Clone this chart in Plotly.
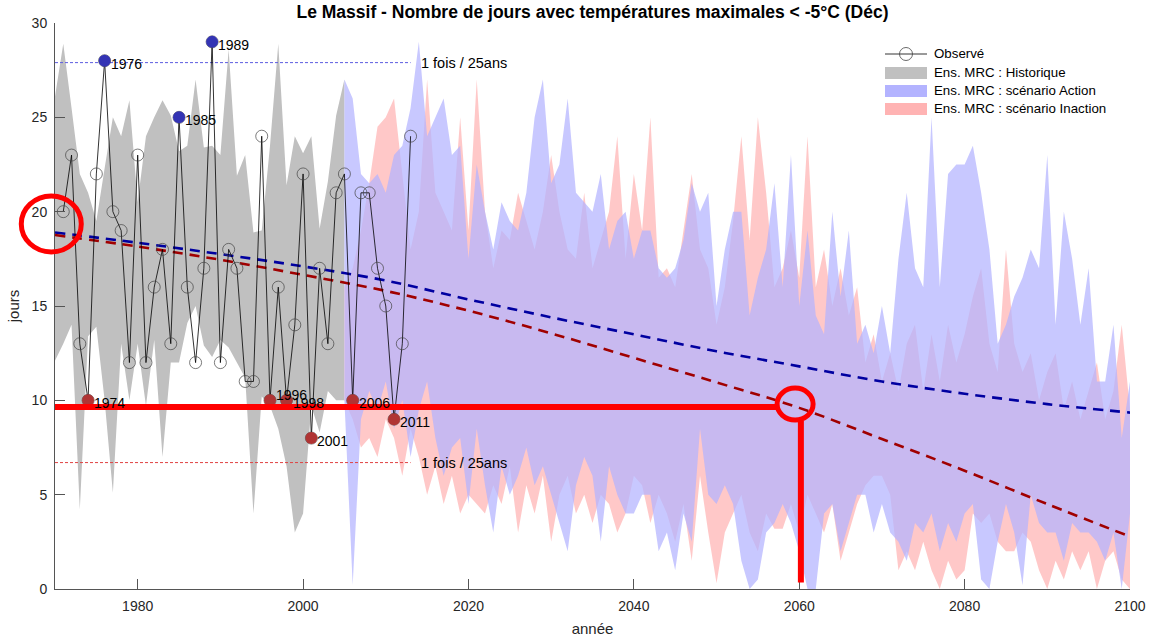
import plotly.graph_objects as go

# --- données ---
years_hist = list(range(1970, 2006))
hist_max = [26.1, 28.9, 25.5, 22.0, 21.0, 19.5, 22.3, 25.0, 24.0, 25.9,
            20.5, 24.0, 25.0, 25.9, 25.1, 23.2, 23.5, 27.0, 23.4, 23.5,
            23.0, 28.6, 21.9, 23.0, 18.9, 19.0, 23.5, 28.9, 21.4, 24.0,
            23.1, 24.0, 19.1, 21.6, 25.1, 27.0]
hist_min = [12.1, 13.0, 14.0, 4.2, 13.4, 13.9, 10.0, 5.1, 13.0, 10.0,
            13.0, 9.7, 13.2, 7.0, 12.0, 12.0, 14.1, 15.0, 12.9, 12.3,
            13.2, 12.8, 12.0, 11.2, 4.0, 10.2, 9.7, 8.5, 6.5, 3.0,
            4.0, 9.7, 8.3, 10.5, 10.0, 10.0]

years_fut = list(range(2005, 2101))
action_max = [27.0, 26.0, 22.0, 21.5, 22.0, 21.0, 23.0, 23.5, 25.5, 29.0,
              24.0, 25.0, 26.0, 23.0, 23.5, 17.5, 22.5, 20.0, 18.0, 20.5,
              19.5, 19.0, 21.0, 25.0, 27.0, 21.5, 22.5, 26.0, 21.0, 20.5,
              20.0, 22.0, 18.0, 19.5, 20.0, 17.5, 19.0, 19.0, 17.0, 16.5,
              17.0, 18.5, 21.5, 20.0, 21.0, 15.0, 18.0, 20.0, 20.0, 14.5,
              16.5, 18.0, 21.5, 16.0, 23.0, 15.0, 19.0, 14.5, 13.5, 20.0,
              15.5, 19.0, 13.0, 14.0, 12.5, 15.0, 12.5, 17.5, 21.0, 17.0,
              16.0, 25.0, 16.0, 22.0, 22.5, 22.5, 23.5, 21.0, 18.0, 13.0,
              14.0, 15.5, 16.5, 18.0, 17.0, 23.0, 14.0, 20.0, 17.5, 14.0,
              17.0, 11.0, 11.0, 14.0, 8.0, 11.0]
action_min = [10.0, 0.2, 9.0, 10.5, 9.5, 11.0, 8.5, 10.0, 7.0, 9.5,
              11.0, 8.0, 6.0, 7.5, 8.0, 4.5, 8.5, 5.5, 3.0, 6.5,
              5.0, 6.0, 7.5, 5.5, 6.5, 5.0, 3.5, 2.0, 5.5, 7.0,
              6.0, 2.5, 6.5, 5.0, 4.0, 4.0, 5.0, 5.0, 2.0, 3.0,
              1.0, 4.0, 2.5, 8.5, 5.0, 4.5, 5.5, 4.5, 1.5, 0.0,
              0.5, 3.0, 3.5, 4.5, 3.5, 2.0, 0.0, 0.0, 4.0, 4.5,
              2.0, 3.5, 5.0, 5.0, 3.0, 4.5, 3.0, 2.5, 1.5, 3.5,
              3.0, 4.0, 2.0, 3.5, 2.5, 4.0, 4.5, 0.5, 0.0, 2.5,
              4.5, 3.0, 0.2, 5.0, 3.5, 3.0, 3.0, 1.5, 3.5, 3.0,
              3.0, 2.5, 1.5, 3.0, 0.0, 4.0]
inaction_max = [16.0, 17.0, 19.0, 21.5, 24.5, 25.0, 26.0, 22.0, 18.0, 20.0,
                27.0, 21.0, 20.0, 19.0, 25.0, 19.0, 27.0, 20.0, 17.0, 19.0,
                18.5, 21.0, 19.5, 18.0, 20.0, 23.0, 20.0, 18.0, 17.5, 21.0,
                17.0, 18.5, 20.0, 24.0, 17.5, 22.0, 19.0, 25.0, 16.5, 17.0,
                16.0, 19.0, 22.0, 18.0, 17.0, 14.0, 16.0, 19.5, 24.0, 18.5,
                25.0, 21.0, 16.0, 17.0, 19.0, 16.5, 24.0, 16.0, 18.0, 15.0,
                17.0, 14.5, 16.0, 12.0, 13.5, 11.0, 12.5, 10.5, 13.0, 14.0,
                10.5, 13.5, 11.0, 14.0, 12.0, 13.5, 15.5, 17.0, 13.0, 11.5,
                18.0, 13.0, 11.5, 12.5, 10.0, 11.5, 12.5, 9.5, 11.0, 9.0,
                10.5, 12.0, 9.0, 10.5, 14.0, 9.5]
inaction_min = [10.0, 9.0, 7.5, 8.0, 7.0, 9.0, 8.0, 6.0, 8.5, 7.0,
                5.0, 6.5, 4.5, 6.0, 4.0, 5.0, 4.5, 4.0, 5.5, 4.5,
                6.5, 3.0, 5.5, 4.0, 6.0, 2.5, 5.0, 6.0, 4.0, 5.0,
                3.5, 5.0, 4.5, 3.0, 4.0, 6.0, 5.5, 3.5, 5.0, 4.0,
                2.5, 4.5, 1.5, 6.0, 3.0, 0.3, 3.0, 4.0, 5.0, 3.0,
                2.0, 4.0, 3.2, 3.2, 4.5, 3.0, 5.0, 4.0, 3.0, 4.5,
                1.5, 3.0, 4.5, 5.5, 6.0, 6.0, 5.0, 1.0, 2.0, 1.0,
                2.5, 1.0, 0.0, 1.5, 0.5, 1.0, 4.0, 3.5, 4.0, 2.5,
                2.0, 2.0, 3.0, 2.5, 1.0, 0.0, 1.5, 0.5, 2.0, 1.0,
                2.0, 0.0, 1.5, 2.0, 0.5, 0.0]

obs_years = list(range(1971, 2014))
obs_values = [20, 23, 13, 10, 22, 28, 20, 19, 12, 23,
              12, 16, 18, 13, 25, 16, 12, 17, 29, 12,
              18, 17, 11, 11, 24, 10, 16, 10, 14, 22,
              8, 17, 13, 21, 22, 10, 21, 21, 17, 15,
              9, 13, 24]
high_years = [1976, 1985, 1989]
low_years = [1974, 1996, 1998, 2001, 2006, 2011]

seuil_haut = 27.9
seuil_bas = 6.7

trend_years = [1970, 1980, 1990, 2000, 2010, 2020, 2030, 2040, 2050, 2060, 2070, 2080, 2090, 2100]
trend_action = [18.9, 18.35, 17.75, 17.1, 16.35, 15.35, 14.4, 13.5, 12.6, 11.8, 11.0, 10.35, 9.8, 9.35]
trend_inaction = [18.76, 18.15, 17.45, 16.65, 15.8, 14.75, 13.55, 12.25, 10.95, 9.6, 7.95, 6.27, 4.5, 2.78]

legend_labels = ["Observé", "Ens. MRC : Historique", "Ens. MRC : scénario Action",
                 "Ens. MRC : scénario Inaction"]

# repère rouge ajouté sur l'image
repere_annee = 2060
repere_valeur = 9.65

x_range = [1970, 2100]
y_range = [0, 30]

W, H = 1151, 640
M = dict(l=55, r=21, t=23, b=51)
FONT = "Liberation Sans, Arial, sans-serif"

GREY = "rgb(192,192,192)"
BLUE = "rgba(179,179,255,0.72)"
PINK = "rgba(255,179,179,0.72)"


def px_x(p):  # pixel -> paper
    return (p - M["l"]) / (W - M["l"] - M["r"])


def px_y(p):
    return (H - M["b"] - p) / (H - M["t"] - M["b"])


fig = go.Figure()


def band(years, upper, lower, color):
    fig.add_trace(go.Scatter(
        x=years + years[::-1], y=upper + lower[::-1],
        fill="toself", fillcolor=color, mode="lines",
        line=dict(width=0), showlegend=False, hoverinfo="skip"))


band(years_hist, hist_max, hist_min, GREY)
band(years_fut, inaction_max, inaction_min, PINK)
band(years_fut, action_max, action_min, BLUE)

# tendances
fig.add_trace(go.Scatter(x=trend_years, y=trend_action, mode="lines", line_shape="spline",
                         line=dict(color="#0000a0", width=2.6, dash="10px,7px"),
                         showlegend=False, hoverinfo="skip"))
fig.add_trace(go.Scatter(x=trend_years, y=trend_inaction, mode="lines", line_shape="spline",
                         line=dict(color="#a00000", width=2.6, dash="10px,7px"),
                         showlegend=False, hoverinfo="skip"))

# seuils 1 fois / 25 ans
seuil_x = [years_hist[0], obs_years[-1]]
fig.add_trace(go.Scatter(x=seuil_x, y=[seuil_haut] * 2, mode="lines",
                         line=dict(color="#5c5ce0", width=1, dash="3px,2px"),
                         showlegend=False, hoverinfo="skip"))
fig.add_trace(go.Scatter(x=seuil_x, y=[seuil_bas] * 2, mode="lines",
                         line=dict(color="#e04040", width=1, dash="3px,2px"),
                         showlegend=False, hoverinfo="skip"))
for s in (seuil_haut, seuil_bas):
    fig.add_annotation(x=obs_years[-1] + 1, y=s, text="1 fois / 25ans", showarrow=False,
                       xanchor="left", yanchor="middle", font=dict(size=14.5, color="#000"))

# observations
fig.add_trace(go.Scatter(x=obs_years, y=obs_values, mode="lines+markers",
                         line=dict(color="black", width=0.8),
                         marker=dict(symbol="circle-open", size=12, color="#444",
                                     line=dict(width=0.7)),
                         showlegend=False, hoverinfo="skip"))

val = dict(zip(obs_years, obs_values))
label_lift = {1996: 8}  # petit décalage vertical comme sur l'original
for yrs, col in ((high_years, "#3434b4"), (low_years, "#b03434")):
    fig.add_trace(go.Scatter(x=yrs, y=[val[y] for y in yrs], mode="markers",
                             marker=dict(size=12, color=col), showlegend=False,
                             hoverinfo="skip"))
    for y in yrs:
        fig.add_annotation(x=y, y=val[y], text=str(y), showarrow=False, xanchor="left",
                           yanchor="middle", xshift=4, yshift=-3 + label_lift.get(y, 0),
                           font=dict(size=14, color="#000"))

# légende (dessinée à la main pour avoir des pastilles pleines)
lx0, lx1, ltxt = 885, 927, 932
rows = [54, 73, 91, 109]
fig.add_shape(type="line", xref="paper", yref="paper", x0=px_x(lx0), x1=px_x(lx1),
              y0=px_y(rows[0]), y1=px_y(rows[0]), line=dict(color="black", width=0.8))
fig.add_shape(type="circle", xref="paper", yref="paper", xsizemode="pixel", ysizemode="pixel",
              xanchor=px_x((lx0 + lx1) / 2), yanchor=px_y(rows[0]),
              x0=-6.5, x1=6.5, y0=-6.5, y1=6.5, line=dict(color="#444", width=0.8))
for r, col in zip(rows[1:], ["rgb(192,192,192)", "rgb(179,179,255)", "rgb(255,179,179)"]):
    fig.add_shape(type="rect", xref="paper", yref="paper", x0=px_x(lx0), x1=px_x(lx1),
                  y0=px_y(r + 6), y1=px_y(r - 6), fillcolor=col, line=dict(width=0))
for r, lab in zip(rows, legend_labels):
    fig.add_annotation(xref="paper", yref="paper", x=px_x(ltxt), y=px_y(r), text=lab,
                       showarrow=False, xanchor="left", yanchor="middle",
                       font=dict(size=13.3, color="#000"))

# repère rouge (cercles + traits)
red = "#ff0000"
fig.add_shape(type="line", xref="x", yref="y", x0=x_range[0], x1=repere_annee - 2.7,
              y0=repere_valeur, y1=repere_valeur, line=dict(color=red, width=6))
fig.add_shape(type="circle", xref="x", yref="y", xsizemode="pixel", ysizemode="pixel",
              xanchor=repere_annee - 0.5, yanchor=repere_valeur + 0.15,
              x0=-18, x1=18, y0=-16, y1=16, line=dict(color=red, width=5))
fig.add_shape(type="line", xref="x", yref="y", x0=repere_annee + 0.2, x1=repere_annee + 0.2,
              y0=0.35, y1=repere_valeur - 0.75, line=dict(color=red, width=6))
fig.add_shape(type="circle", xref="paper", yref="paper", xsizemode="pixel", ysizemode="pixel",
              xanchor=(1969.55 - x_range[0]) / (x_range[1] - x_range[0]),
              yanchor=19.35 / y_range[1],
              x0=-30, x1=30, y0=-28, y1=28, line=dict(color=red, width=5))

fig.update_layout(
    width=W, height=H,
    margin=dict(M, autoexpand=False),
    paper_bgcolor="white", plot_bgcolor="white",
    font=dict(family=FONT, size=14, color="#262626"),
    title=dict(text="<b>Le Massif - Nombre de jours avec températures maximales < -5°C (Déc)</b>",
               x=592.5 / W, xanchor="center", y=1 - 12 / H, yanchor="middle", yref="container",
               font=dict(size=17.5, color="#000")),
    showlegend=False,
)
fig.update_xaxes(range=x_range, tickvals=[1980, 2000, 2020, 2040, 2060, 2080, 2100],
                 ticks="inside", ticklen=10, tickcolor="#555", showline=True,
                 linecolor="#555", linewidth=1, showgrid=False, zeroline=False,
                 automargin=False, ticklabelstandoff=4,
                 title=dict(text="année", standoff=10, font=dict(size=15)))
fig.update_yaxes(range=y_range, tickvals=[0, 5, 10, 15, 20, 25, 30],
                 ticks="inside", ticklen=10, tickcolor="#555", showline=True,
                 linecolor="#555", linewidth=1, showgrid=False, zeroline=False,
                 automargin=False, ticklabelstandoff=4,
                 title=dict(text="jours", standoff=8, font=dict(size=15)))

page_css = ("document.documentElement.style.margin='0';"
            "document.documentElement.style.overflow='hidden';"
            "document.body.style.margin='0';"
            "document.body.style.overflow='hidden';")
fig.write_html("out.html", config={"displayModeBar": False}, post_script=page_css)
